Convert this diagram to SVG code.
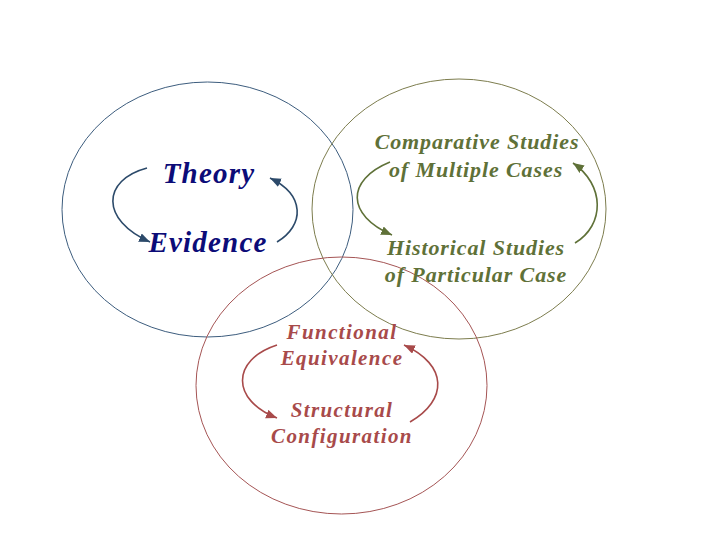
<svg xmlns="http://www.w3.org/2000/svg" width="720" height="540" viewBox="0 0 720 540">
<style>
.t{font-family:"Liberation Serif","Times New Roman",serif;font-weight:bold;font-style:italic;text-anchor:middle}
.b{fill:#0c0c78;font-size:29px;letter-spacing:1.2px}
.g{fill:#5f7138;font-size:22px;letter-spacing:0.9px}
.r{fill:#a84a4a;font-size:21px;letter-spacing:1.4px}
.ring{fill:none;stroke-width:1}
.arc{fill:none;stroke-width:1.6}
</style>
<defs>
<marker id="mb" markerUnits="userSpaceOnUse" markerWidth="12" markerHeight="10" refX="11" refY="4.5" orient="auto"><path d="M0,0 L11,4.5 L0,9 z" fill="#2c4a6a"/></marker>
<marker id="mg" markerUnits="userSpaceOnUse" markerWidth="12" markerHeight="10" refX="11" refY="4.5" orient="auto"><path d="M0,0 L11,4.5 L0,9 z" fill="#5f7138"/></marker>
<marker id="mr" markerUnits="userSpaceOnUse" markerWidth="12" markerHeight="10" refX="11" refY="4.5" orient="auto"><path d="M0,0 L11,4.5 L0,9 z" fill="#a84a4a"/></marker>
</defs>
<rect width="720" height="540" fill="#ffffff"/>
<g id="circle-theory"><ellipse class="ring" cx="207.5" cy="209.5" rx="145.5" ry="127.5" stroke="#3d5d7e"/></g>
<g id="circle-studies"><ellipse class="ring" cx="459" cy="209" rx="147" ry="130" stroke="#7d7d4e"/></g>
<g id="circle-functional"><ellipse class="ring" cx="341.5" cy="385.5" rx="145.5" ry="128.5" stroke="#a55555"/></g>
<g id="theory"><text class="t b" x="209" y="183">Theory</text></g>
<g id="evidence"><text class="t b" x="208" y="252">Evidence</text></g>
<g id="comparative"><text class="t g" x="477" y="149">Comparative Studies</text><text class="t g" x="476" y="177">of Multiple Cases</text></g>
<g id="historical"><text class="t g" x="476" y="255">Historical Studies</text><text class="t g" x="476" y="282">of Particular Case</text></g>
<g id="functional"><text class="t r" x="342" y="339">Functional</text><text class="t r" x="342" y="365">Equivalence</text></g>
<g id="structural"><text class="t r" x="342" y="417">Structural</text><text class="t r" x="342" y="443">Configuration</text></g>
<g id="connectors">
<path class="arc" stroke="#2c4a6a" marker-end="url(#mb)" d="M147,168 C102,180 100,220 150,242"/>
<path class="arc" stroke="#2c4a6a" marker-end="url(#mb)" d="M277,242 C305,225 305,195 270,178"/>
<path class="arc" stroke="#5f7138" marker-end="url(#mg)" d="M390,162 C346,180 346,215 392,235"/>
<path class="arc" stroke="#5f7138" marker-end="url(#mg)" d="M575,243 C605,225 605,185 573,163"/>
<path class="arc" stroke="#a84a4a" marker-end="url(#mr)" d="M277,345 C231,360 231,400 277,418"/>
<path class="arc" stroke="#a84a4a" marker-end="url(#mr)" d="M410,422 C448,400 448,365 404,345"/>
</g>
</svg>
